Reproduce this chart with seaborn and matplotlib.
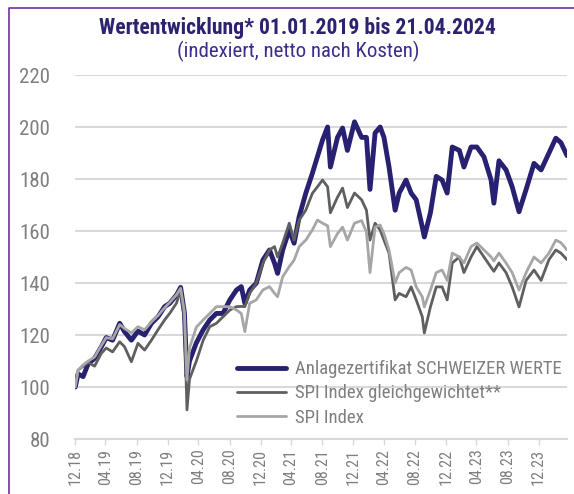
import numpy as np
import pandas as pd
import matplotlib
matplotlib.use('Agg')
import matplotlib.pyplot as plt
import matplotlib.dates as mdates
from matplotlib import font_manager
from matplotlib.lines import Line2D
import seaborn as sns

# Values (index, 01.01.2019 = 100)
dates = ['2019-01-01', '2019-01-12', '2019-02-01', '2019-02-21', '2019-03-18', '2019-04-14', '2019-05-03',
         '2019-05-28', '2019-06-25', '2019-07-14', '2019-08-10', '2019-09-05', '2019-10-01', '2019-10-28',
         '2019-11-23', '2019-12-19',
         '2020-01-08', '2020-02-04', '2020-02-20', '2020-03-06', '2020-03-16', '2020-03-26', '2020-04-22',
         '2020-05-19', '2020-06-14', '2020-07-10', '2020-08-05', '2020-09-01', '2020-09-27', '2020-10-16',
         '2020-10-30', '2020-11-18', '2020-12-14',
         '2021-01-09', '2021-02-04', '2021-02-24', '2021-03-08', '2021-03-28', '2021-04-23', '2021-05-12',
         '2021-06-01', '2021-06-27', '2021-07-23', '2021-08-12', '2021-09-01', '2021-09-21', '2021-10-02',
         '2021-10-30', '2021-11-19', '2021-12-08',
         '2022-01-05', '2022-02-02', '2022-02-21', '2022-03-07', '2022-03-27', '2022-04-16', '2022-05-01',
         '2022-05-21', '2022-06-14', '2022-06-30', '2022-07-27', '2022-08-16', '2022-09-05', '2022-09-29',
         '2022-10-07', '2022-10-31', '2022-11-23', '2022-12-16',
         '2023-01-05', '2023-01-25', '2023-02-22', '2023-03-12', '2023-04-09', '2023-05-02', '2023-05-30',
         '2023-06-27', '2023-07-08', '2023-07-28', '2023-08-25', '2023-09-18', '2023-10-15', '2023-11-12',
         '2023-12-13',
         '2024-01-10', '2024-02-10', '2024-03-08', '2024-03-28', '2024-04-21']

schweizer_werte = [100, 105, 104, 109, 111, 115.5, 119, 118, 124.5, 121.3, 118, 121.5, 120, 124.5, 127, 130.9,
                   132.2, 135.4, 138.3, 128.5, 104, 110, 117, 122, 125.8, 128.3, 128.3, 133.5, 137.3, 138.6,
                   132.2, 137.3, 139.9,
                   148.8, 152.7, 147.6, 143.7, 152.7, 160.4, 155.3, 165.5, 174.5, 182.2, 188.6, 195, 200,
                   184.6, 196, 199.6, 191,
                   202, 196, 196, 176, 197.7, 200, 196, 184.6, 168, 174.6, 179.6, 174.6, 172, 161.5, 157.7,
                   167, 181, 179.6,
                   174.6, 192.3, 191, 184.6, 192.3, 192.3, 188.5, 179.6, 170.7, 187, 183.5, 177, 167.4, 176, 186,
                   183.5, 190, 195.7, 194, 189]

spi_gleich = [100, 106.5, 108, 109.5, 108, 113, 115, 113.5, 117.4, 115.5, 109.7, 116.8, 114.2, 118, 122, 125.8,
              128.3, 132.3, 137.5, 126, 91.2, 103, 110, 118, 123.2, 124.5, 127, 129.6, 130.9, 131, 130.9, 136,
              139.9,
              147.6, 152.7, 154, 150, 155.3, 163, 156.5, 164.2, 168, 174.5, 177, 179.6, 177, 167, 173, 176.5, 169,
              174.6, 172, 168, 156.5, 163, 160.4, 156.5, 151.5, 133.5, 136, 134.7, 138.5, 133.5, 127, 120.8, 130.8,
              138.5, 138.5,
              133.5, 147.7, 150, 144, 150, 154, 150, 146, 144.5, 147.7, 144, 138.5, 130.8, 141, 145,
              141, 149, 152.7, 151.5, 149]

spi_index = [100, 106.5, 108.5, 110, 111.5, 116, 119, 118.5, 124, 122.5, 120.8, 123.2, 122, 125, 127.5, 130.5,
             132.5, 135.5, 138, 129, 102.7, 115, 123, 125.8, 128.3, 130.9, 130.9, 130.9, 129.6, 128.3, 121.3,
             132.2, 133.5,
             137.3, 138.6, 136, 134.7, 142.4, 146.3, 148.8, 154, 156.5, 160.4, 164.2, 163, 162, 154, 159, 161.5,
             156.5,
             163, 164, 159.6, 144, 161.5, 162.3, 159, 152.7, 140, 144, 146, 145, 138.5, 134.7, 130.8, 137.3, 144,
             145,
             141, 151.5, 150, 147.7, 154, 155.4, 152.7, 150, 148.5, 151.5, 147.7, 144, 137.3, 144, 150,
             147.7, 151.5, 156.5, 155.5, 152.7]

labels = ['Anlagezertifikat SCHWEIZER WERTE', 'SPI Index gleichgewichtet**', 'SPI Index']
colors = ['#282171', '#5f5f5f', '#a6a6a6']
widths = [3.5, 2.0, 2.0]

sns.set_theme(style='white')

# look for a narrow / condensed face, the original uses a condensed font
names = {f.name for f in font_manager.fontManager.ttflist}
stretch = 'normal'
family = 'Liberation Sans'
for n in ['Liberation Sans Narrow', 'Roboto Condensed', 'Open Sans Condensed', 'DejaVu Sans Condensed']:
	if n in names:
		family = n
		break
else:
	cond = [f for f in font_manager.fontManager.ttflist
			if f.name == 'DejaVu Sans' and 'condensed' in str(f.stretch).lower()]
	if cond:
		family = 'DejaVu Sans'
		stretch = 'condensed'
plt.rcParams['font.family'] = [family, 'DejaVu Sans']
plt.rcParams['font.stretch'] = stretch

fig = plt.figure(figsize=(5.74, 4.94), dpi=100)
renderer = fig.canvas.get_renderer()


def fit_size(text, target_px, weight='normal', base=20.0):
	# font size (pt) giving the text a certain width in pixels
	t = fig.text(0, 0, text, fontsize=base, fontweight=weight)
	w = t.get_window_extent(renderer=renderer).width
	t.remove()
	return base * target_px / w


title_fs = min(17, fit_size('Wertentwicklung* 01.01.2019 bis 21.04.2024', 396, 'bold'))
sub_fs = min(15, fit_size('(indexiert, netto nach Kosten)', 244))
leg_fs = min(14, fit_size(labels[0], 268))
ytick_fs = min(16, fit_size('220', 31))
xtick_fs = min(13.5, fit_size('12.18', 36))

df = pd.DataFrame({'date': pd.to_datetime(dates)})
series = [schweizer_werte, spi_gleich, spi_index]

ax = fig.add_axes([75 / 574, 1 - 439 / 494, 492 / 574, 364 / 494])

for vals, lab, col, lw in zip(series, labels, colors, widths):
	sns.lineplot(x=df['date'], y=vals, ax=ax, color=col, linewidth=lw, label=lab)

ax.set_xlim(pd.Timestamp('2018-12-31'), pd.Timestamp('2024-04-21'))
ax.set_ylim(80, 220)
ax.set_yticks(np.arange(80, 221, 20))
ax.set_xticks(pd.date_range('2018-12-31', '2023-12-31', freq='4ME'))
ax.xaxis.set_major_formatter(mdates.DateFormatter('%m.%y'))
ax.set_xlabel('')
ax.set_ylabel('')

grid_col = '#d9d9d9'
ax.grid(axis='y', color=grid_col, linewidth=1.5)
ax.grid(axis='x', visible=False)
for s in ['left', 'right', 'top']:
	ax.spines[s].set_visible(False)
ax.spines['bottom'].set_color(grid_col)
ax.spines['bottom'].set_linewidth(1.5)
ax.tick_params(axis='x', bottom=True, length=4, width=1, color=grid_col, labelrotation=90, pad=3,
			   labelsize=xtick_fs, labelcolor='#7f7f7f')
ax.tick_params(axis='y', left=False, length=0, pad=18, labelsize=ytick_fs, labelcolor='#7f7f7f')

leg = ax.legend(loc='upper left', bbox_to_anchor=(0.329, 0.217), frameon=False, fontsize=leg_fs,
				handlelength=2.6 * 13.5 / leg_fs, handletextpad=0.5 * 13.5 / leg_fs,
				labelspacing=0.33, borderpad=0, borderaxespad=0)
for t in leg.get_texts():
	t.set_color('#7f7f7f')

fig.text(0.519, 1 - 33.8 / 494, 'Wertentwicklung* 01.01.2019 bis 21.04.2024', ha='center', va='baseline',
		 fontsize=title_fs, fontweight='bold', color='#2b2270')
fig.text(0.519, 1 - 57 / 494, '(indexiert, netto nach Kosten)', ha='center', va='baseline',
		 fontsize=sub_fs, color='#3d2d8f')

# purple frame (only left and top edge visible)
frame_col = '#7030a0'
fig.add_artist(Line2D([8.5 / 574, 8.5 / 574, 1], [0, 1 - 8.5 / 494, 1 - 8.5 / 494], transform=fig.transFigure,
					  color=frame_col, linewidth=1.2))

plt.savefig('out.png', dpi=100)
